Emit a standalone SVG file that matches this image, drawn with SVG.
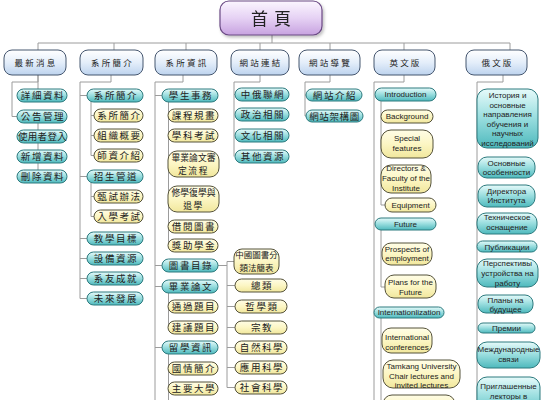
<svg xmlns="http://www.w3.org/2000/svg" width="546" height="400" viewBox="0 0 546 400">
<defs>
<linearGradient id="gRoot" x1="0" y1="0" x2="0" y2="1"><stop offset="0" stop-color="#fbf6ff"/><stop offset="0.5" stop-color="#e6d2f4"/><stop offset="1" stop-color="#c7a2e0"/></linearGradient>
<linearGradient id="gL1" x1="0" y1="0" x2="0" y2="1"><stop offset="0" stop-color="#ffffff"/><stop offset="0.5" stop-color="#e4eefa"/><stop offset="1" stop-color="#bdd3ee"/></linearGradient>
<linearGradient id="gTeal" x1="0" y1="0" x2="0" y2="1"><stop offset="0" stop-color="#e6fafa"/><stop offset="0.45" stop-color="#9fe0e1"/><stop offset="1" stop-color="#4eb9bd"/></linearGradient>
<linearGradient id="gYel" x1="0" y1="0" x2="0" y2="1"><stop offset="0" stop-color="#fffde6"/><stop offset="0.5" stop-color="#fcf6c4"/><stop offset="1" stop-color="#f1e79c"/></linearGradient>
<filter id="sh" x="-10%" y="-10%" width="130%" height="140%"><feDropShadow dx="1.5" dy="2" stdDeviation="1.5" flood-color="#000" flood-opacity="0.25"/></filter>
</defs>
<style>
.root{fill:url(#gRoot);stroke:#6a4a84;stroke-width:1.2}
.l1{fill:url(#gL1);stroke:#45566f;stroke-width:1}
.teal{fill:url(#gTeal);stroke:#2c7a7e;stroke-width:1}
.yel{fill:url(#gYel);stroke:#55523a;stroke-width:1}
.zh{font-family:"Noto Sans CJK TC","Noto Sans CJK SC",sans-serif;font-size:9.5px;fill:#222;text-anchor:middle;letter-spacing:1.6px}
.zh2{font-family:"Noto Sans CJK TC","Noto Sans CJK SC",sans-serif;font-size:8.8px;fill:#222;text-anchor:middle}
.zh1{font-family:"Noto Sans CJK TC","Noto Sans CJK SC",sans-serif;font-size:8.5px;fill:#222;text-anchor:middle;letter-spacing:2.2px}
.en{font-family:"Liberation Sans",Arial,sans-serif;font-size:8px;fill:#222;text-anchor:middle}
.ln{fill:none;stroke:#9c9c9c;stroke-width:1}
</style>
<g id="connectors">
<path class="ln" d="M272,35 V43 M38,43 H510 M38,43 V50 M114,43 V50 M186,43 V50 M260,43 V50 M330,43 V50 M404,43 V50 M510,43 V50"/>
<path class="ln" d="M38,75 V82 H12 V116.5 H17 M38,75 V89 M38,123 V170"/>
<path class="ln" d="M111,75 V82 H80 V298.5 M80,95.5 H87 M80,176.5 H87 M80,238.5 H87 M80,258.5 H87 M80,278.5 H87 M80,298.5 H87 M91,102 V155.5 H94 M91,115.5 H94 M91,135.5 H94 M91,183 V216.5 H94 M91,196.5 H94"/>
<path class="ln" d="M183,75 V82 H155 V400 M155,95.5 H162 M155,265.5 H162 M155,286.5 H162 M155,347.5 H162 M168.5,102 V245 M168.5,293 V327 M168.5,354 V400"/>
<path class="ln" d="M218,265.5 H227 M227,261.5 V387.5 M227,261.5 H234 M227,285.5 H235 M227,306.5 H235 M227,327.5 H235 M227,347.5 H235 M227,367.5 H235 M227,387.5 H235"/>
<path class="ln" d="M260,75 V82 H234 V156.5 M234,94.5 H235"/>
<path class="ln" d="M330,75 V82 H305 V116 M305,95 H306 M305,116 H306"/>
<path class="ln" d="M404,75 V82 H374 V400 M381,101 V205 H385 M381,230 V287 H385 M381,318 V400"/>
<path class="ln" d="M503,75 V82 H477 V400"/>
</g>
<g id="root" filter="url(#sh)"><rect class="root" x="220" y="1" width="102" height="34" rx="9"/><text class="zh" x="274" y="24.5" style="font-size:17px;letter-spacing:6px">首頁</text></g>
<g id="l1-news"><rect class="l1" x="4" y="50" width="62" height="25" rx="8"/><text class="zh1" x="36" y="65.5">最新消息</text></g>
<g id="l1-intro"><rect class="l1" x="80" y="50" width="63" height="25" rx="8"/><text class="zh1" x="112.5" y="65.5">系所簡介</text></g>
<g id="l1-info"><rect class="l1" x="155" y="50" width="62" height="25" rx="8"/><text class="zh1" x="187" y="65.5">系所資訊</text></g>
<g id="l1-links"><rect class="l1" x="231" y="50" width="58" height="25" rx="8"/><text class="zh1" x="261" y="65.5">網站連結</text></g>
<g id="l1-guide"><rect class="l1" x="299" y="50" width="61" height="25" rx="8"/><text class="zh1" x="330.5" y="65.5">網站導覽</text></g>
<g id="l1-en"><rect class="l1" x="374" y="50" width="61" height="25" rx="8"/><text class="zh1" x="405.5" y="65.5">英文版</text></g>
<g id="l1-ru"><rect class="l1" x="466" y="50" width="61" height="25" rx="8"/><text class="zh1" x="497.5" y="65.5">俄文版</text></g>

<g id="n-c1-1"><rect class="teal" x="17" y="89" width="50" height="13" rx="6.5"/><text class="zh" x="43" y="99">詳細資料</text></g>
<g id="n-c1-2"><rect class="teal" x="17" y="110" width="50" height="13" rx="6.5"/><text class="zh" x="43" y="120">公告管理</text></g>
<g id="n-c1-3"><rect class="teal" x="17" y="130" width="50" height="13" rx="6.5"/><text class="zh" x="42.5" y="140" style="letter-spacing:0.3px">使用者登入</text></g>
<g id="n-c1-4"><rect class="teal" x="17" y="150" width="50" height="13" rx="6.5"/><text class="zh" x="43" y="160">新增資料</text></g>
<g id="n-c1-5"><rect class="teal" x="17" y="170" width="50" height="13" rx="6.5"/><text class="zh" x="43" y="180">刪除資料</text></g>

<g id="n-c2-1"><rect class="teal" x="87" y="89" width="56" height="13" rx="6.5"/><text class="zh" x="116" y="99">系所簡介</text></g>
<g id="n-c2-1a"><rect class="yel" x="94" y="109" width="49" height="13" rx="6.5"/><text class="zh" x="119.5" y="119">系所簡介</text></g>
<g id="n-c2-1b"><rect class="yel" x="94" y="129" width="49" height="13" rx="6.5"/><text class="zh" x="119.5" y="139">組織概要</text></g>
<g id="n-c2-1c"><rect class="yel" x="94" y="149" width="49" height="13" rx="6.5"/><text class="zh" x="119.5" y="159">師資介紹</text></g>
<g id="n-c2-2"><rect class="teal" x="87" y="170" width="56" height="13" rx="6.5"/><text class="zh" x="116" y="180">招生管道</text></g>
<g id="n-c2-2a"><rect class="yel" x="94" y="190" width="49" height="13" rx="6.5"/><text class="zh" x="119.5" y="200">甄試辦法</text></g>
<g id="n-c2-2b"><rect class="yel" x="94" y="210" width="49" height="13" rx="6.5"/><text class="zh" x="119.5" y="220">入學考試</text></g>
<g id="n-c2-3"><rect class="teal" x="87" y="232" width="56" height="13" rx="6.5"/><text class="zh" x="116" y="242">教學目標</text></g>
<g id="n-c2-4"><rect class="teal" x="87" y="252" width="56" height="13" rx="6.5"/><text class="zh" x="116" y="262">設備資源</text></g>
<g id="n-c2-5"><rect class="teal" x="87" y="272" width="56" height="13" rx="6.5"/><text class="zh" x="116" y="282">系友成就</text></g>
<g id="n-c2-6"><rect class="teal" x="87" y="292" width="56" height="13" rx="6.5"/><text class="zh" x="116" y="302">未來發展</text></g>

<g id="n-c3-1"><rect class="teal" x="162" y="89" width="56" height="13" rx="6.5"/><text class="zh" x="191" y="99">學生事務</text></g>
<g id="n-c3-1a"><rect class="yel" x="168" y="109" width="50" height="13" rx="6.5"/><text class="zh" x="194" y="119">課程規畫</text></g>
<g id="n-c3-1b"><rect class="yel" x="168" y="129" width="50" height="13" rx="6.5"/><text class="zh" x="194" y="139">學科考試</text></g>
<g id="n-c3-1c"><rect class="yel" x="168" y="151" width="51" height="26" rx="9"/><text class="zh2" x="193.5" y="160.8">畢業論文審</text><text class="zh2" x="193.5" y="173.8" style="letter-spacing:1.5px">定流程</text></g>
<g id="n-c3-1d"><rect class="yel" x="168" y="186" width="51" height="26" rx="9"/><text class="zh2" x="193.5" y="195.8">修學復學與</text><text class="zh2" x="193.5" y="208.8" style="letter-spacing:1.5px">退學</text></g>
<g id="n-c3-1e"><rect class="yel" x="168" y="220" width="50" height="13" rx="6.5"/><text class="zh" x="194" y="230">借閱圖書</text></g>
<g id="n-c3-1f"><rect class="yel" x="168" y="239" width="50" height="13" rx="6.5"/><text class="zh" x="194" y="249">獎助學金</text></g>
<g id="n-c3-2"><rect class="teal" x="162" y="259" width="56" height="13" rx="6.5"/><text class="zh" x="191" y="269">圖書目錄</text></g>
<g id="n-c3-3"><rect class="teal" x="162" y="280" width="56" height="13" rx="6.5"/><text class="zh" x="191" y="290">畢業論文</text></g>
<g id="n-c3-3a"><rect class="yel" x="168" y="300" width="50" height="13" rx="6.5"/><text class="zh" x="194" y="310">通過題目</text></g>
<g id="n-c3-3b"><rect class="yel" x="168" y="321" width="50" height="13" rx="6.5"/><text class="zh" x="194" y="331">建議題目</text></g>
<g id="n-c3-4"><rect class="teal" x="162" y="341" width="56" height="13" rx="6.5"/><text class="zh" x="191" y="351">留學資訊</text></g>
<g id="n-c3-4a"><rect class="yel" x="168" y="362" width="50" height="13" rx="6.5"/><text class="zh" x="194" y="372">國情簡介</text></g>
<g id="n-c3-4b"><rect class="yel" x="168" y="382" width="50" height="13" rx="6.5"/><text class="zh" x="194" y="392">主要大學</text></g>

<g id="n-lib-0"><rect class="yel" x="234" y="249" width="45" height="25" rx="8"/><text class="zh2" x="256.5" y="258.3" style="font-size:8.5px">中國圖書分</text><text class="zh2" x="256.5" y="270.8" style="font-size:8.5px">類法簡表</text></g>
<g id="n-lib-1"><rect class="yel" x="235" y="279" width="52" height="13" rx="6.5"/><text class="zh" x="262" y="289">總類</text></g>
<g id="n-lib-2"><rect class="yel" x="235" y="300" width="52" height="13" rx="6.5"/><text class="zh" x="262" y="310">哲學類</text></g>
<g id="n-lib-3"><rect class="yel" x="235" y="321" width="52" height="13" rx="6.5"/><text class="zh" x="262" y="331">宗教</text></g>
<g id="n-lib-4"><rect class="yel" x="235" y="341" width="52" height="13" rx="6.5"/><text class="zh" x="262" y="351">自然科學</text></g>
<g id="n-lib-5"><rect class="yel" x="235" y="361" width="52" height="13" rx="6.5"/><text class="zh" x="262" y="371">應用科學</text></g>
<g id="n-lib-6"><rect class="yel" x="235" y="381" width="52" height="13" rx="6.5"/><text class="zh" x="262" y="391">社會科學</text></g>

<g id="n-c4-1"><rect class="teal" x="235" y="88" width="54" height="13" rx="6.5"/><text class="zh" x="263" y="98">中俄聯網</text></g>
<g id="n-c4-2"><rect class="teal" x="235" y="108" width="54" height="13" rx="6.5"/><text class="zh" x="263" y="118">政治相關</text></g>
<g id="n-c4-3"><rect class="teal" x="235" y="129" width="54" height="13" rx="6.5"/><text class="zh" x="263" y="139">文化相關</text></g>
<g id="n-c4-4"><rect class="teal" x="235" y="150" width="54" height="13" rx="6.5"/><text class="zh" x="263" y="160">其他資源</text></g>

<g id="n-c5-1"><rect class="teal" x="306" y="89" width="56" height="12" rx="6"/><text class="zh" x="335" y="98.5">網站介紹</text></g>
<g id="n-c5-2"><rect class="teal" x="306" y="110" width="57" height="12" rx="6"/><text class="zh" x="334.5" y="119.5" style="letter-spacing:0.6px">網站架構圖</text></g>

<g id="n-en-1"><rect class="teal" x="375" y="88" width="61" height="13" rx="6.5"/><text class="en" x="405.5" y="97.3">Introduction</text></g>
<g id="n-en-1a"><rect class="yel" x="381" y="110" width="52" height="13" rx="6.5"/><text class="en" x="407" y="119.3">Background</text></g>
<g id="n-en-1b"><rect class="yel" x="381" y="130" width="52" height="28" rx="10"/><text class="en" x="407" y="141">Special<tspan x="407" y="151">features</tspan></text></g>
<g id="n-en-1c"><rect class="yel" x="381" y="165" width="50" height="28" rx="10"/><text class="en" x="406" y="171">Directors &amp;<tspan x="406" y="181">Faculty of the</tspan><tspan x="406" y="190.5">Institute</tspan></text></g>
<g id="n-en-1d"><rect class="yel" x="385" y="198" width="51" height="14" rx="7"/><text class="en" x="410.5" y="208">Equipment</text></g>
<g id="n-en-2"><rect class="teal" x="375" y="218" width="61" height="12" rx="6"/><text class="en" x="405.5" y="227">Future</text></g>
<g id="n-en-2a"><rect class="yel" x="382" y="243" width="50" height="22" rx="9"/><text class="en" x="407" y="251.5">Prospects of<tspan x="407" y="261">employment</tspan></text></g>
<g id="n-en-2b"><rect class="yel" x="385" y="275" width="51" height="23" rx="9"/><text class="en" x="410.5" y="285">Plans for the<tspan x="410.5" y="295">Future</tspan></text></g>
<g id="n-en-3"><rect class="teal" x="374" y="307" width="70" height="11" rx="5.5"/><text class="en" x="409" y="315.3">Internationlization</text></g>
<g id="n-en-3a"><rect class="yel" x="382" y="328" width="50" height="25" rx="9"/><text class="en" x="407" y="340">International<tspan x="407" y="350">conferences</tspan></text></g>
<g id="n-en-3b"><rect class="yel" x="383" y="360" width="77" height="28" rx="10"/><text class="en" x="421.5" y="368.5">Tamkang University<tspan x="421.5" y="378.5">Chair lectures and</tspan><tspan x="421.5" y="388">invited lectures</tspan></text></g>
<g id="n-en-3c"><rect class="yel" x="383" y="395" width="72" height="20" rx="9"/></g>

<g id="n-ru-1"><rect class="teal" x="477" y="89" width="61" height="59" rx="10"/><text class="en" x="507.5" y="98">История и<tspan x="507.5" y="107.5">основные</tspan><tspan x="507.5" y="117">направления</tspan><tspan x="507.5" y="126.5">обучения и</tspan><tspan x="507.5" y="136">научных</tspan><tspan x="507.5" y="145.5">исследований</tspan></text></g>
<g id="n-ru-2"><rect class="teal" x="478" y="157" width="57" height="21" rx="9"/><text class="en" x="506.5" y="165.5">Основные<tspan x="506.5" y="175">особенности</tspan></text></g>
<g id="n-ru-3"><rect class="teal" x="478" y="185" width="57" height="22" rx="9"/><text class="en" x="506.5" y="193.5">Директора<tspan x="506.5" y="203">Института</tspan></text></g>
<g id="n-ru-4"><rect class="teal" x="477" y="213" width="60" height="21" rx="9"/><text class="en" x="507" y="220">Техническое<tspan x="507" y="230">оснащение</tspan></text></g>
<g id="n-ru-5"><rect class="teal" x="477" y="241" width="60" height="11" rx="5.5"/><text class="en" x="507" y="249.5">Публикации</text></g>
<g id="n-ru-6"><rect class="teal" x="477" y="259" width="61" height="28" rx="10"/><text class="en" x="507.5" y="266">Перспективы<tspan x="507.5" y="276">устройства на</tspan><tspan x="507.5" y="285.5">работу</tspan></text></g>
<g id="n-ru-7"><rect class="teal" x="478" y="295" width="55" height="18" rx="8"/><text class="en" x="505.5" y="303">Планы на<tspan x="505.5" y="312.3">будущее</tspan></text></g>
<g id="n-ru-8"><rect class="teal" x="478" y="323" width="57" height="10" rx="5"/><text class="en" x="506.5" y="331">Премии</text></g>
<g id="n-ru-9"><rect class="teal" x="477" y="342" width="63" height="26" rx="10"/><text class="en" x="508.5" y="351.5">Международные<tspan x="508.5" y="361.5">связи</tspan></text></g>
<g id="n-ru-10"><rect class="teal" x="477" y="377" width="63" height="40" rx="10"/><text class="en" x="508.5" y="388.5">Приглашенные<tspan x="508.5" y="398.5">лекторы в</tspan></text></g>
</svg>
